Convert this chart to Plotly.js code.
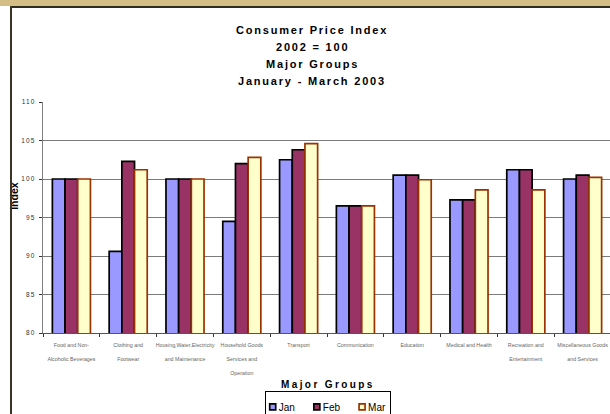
<!DOCTYPE html>
<html>
<head>
<meta charset="utf-8">
<script src="https://cdn.plot.ly/plotly-3.0.1.min.js"></script>
<style>
  html, body { margin: 0; padding: 0; background: #fff; overflow: hidden; }
  #wrap { position: relative; width: 610px; height: 414px; overflow: hidden; }
  #chart { position: absolute; left: 0; top: 0; }
  .band { position: absolute; left: 0; top: 0; width: 610px; height: 6px; background: #d4be85; }
  .topline { position: absolute; left: 10px; top: 6px; width: 600px; height: 2px; background: #2f2c22; }
  .leftline { position: absolute; left: 10px; top: 6px; width: 2px; height: 408px; background: #3a3426; }
  #chart .ytick text { letter-spacing: 1.2px; }
</style>
</head>
<body>
<div id="wrap">
  <div id="chart"></div>
  <div class="band"></div>
  <div class="topline"></div>
  <div class="leftline"></div>
</div>
<script>
const categories = [
  "Food and Non-<br> <br>Alcoholic Beverages",
  "Clothing and<br> <br>Footwear",
  "Housing,Water,Electricity<br> <br>and Maintenance",
  "Household Goods<br> <br>Services and<br> <br>Operation",
  "Transport",
  "Communication",
  "Education",
  "Medical and Health",
  "Recreation and<br> <br>Entertainment",
  "Miscellaneous Goods<br> <br>and Services"
];
const seriesNames = ["Jan", "Feb", "Mar"];
const jan = [100.0, 90.6, 100.0, 94.5, 102.5, 96.5, 100.5, 97.3, 101.2, 100.0];
const feb = [100.0, 102.3, 100.0, 102.0, 103.8, 96.5, 100.5, 97.3, 101.2, 100.5];
const mar = [100.0, 101.2, 100.0, 102.8, 104.6, 96.5, 99.9, 98.6, 98.6, 100.2];
const titleLines = ["Consumer Price Index", "2002 = 100", "Major Groups", "January - March 2003"];
const yTicks = [80, 85, 90, 95, 100, 105, 110];
const xTitle = "Major Groups";
const yTitle = "Index";

const fills = ["#9999ff", "#993366", "#ffffcc"];
const outlines = ["#000000", "#000000", "#993300"];
const values = [jan, feb, mar];

const traces = values.map((v, i) => ({
  type: "bar",
  name: seriesNames[i],
  x: categories,
  y: v,
  marker: { color: fills[i], line: { color: outlines[i], width: 1.7 } }
}));

const W = 620, H = 414;
const mL = 42.5, mR = 9, mT = 101.7, mB = 81.3;
const plotW = W - mL - mR, plotH = H - mT - mB;
const px = X => (X - mL) / plotW;
const py = Y => (H - mB - Y) / plotH;
const FONT = "Liberation Sans, Arial, sans-serif";
const spaced = (t, s) => "<b><span style='letter-spacing:" + s + "px'>" + t + "</span></b>";

const annotations = titleLines.map((t, i) => ({
  text: spaced(t, 1.8),
  xref: "paper", yref: "paper",
  x: px(312), y: py([30, 46.7, 63.3, 81][i]),
  xanchor: "center", yanchor: "middle",
  showarrow: false,
  font: { family: FONT, size: 11, color: "#000" }
}));
annotations.push({
  text: spaced(xTitle, 2.4),
  xref: "paper", yref: "paper",
  x: px(328), y: py(384),
  xanchor: "center", yanchor: "middle", showarrow: false,
  font: { family: FONT, size: 10, color: "#000" }
});
annotations.push({
  text: "<b>" + yTitle + "</b>",
  xref: "paper", yref: "paper",
  x: px(14), y: py(196),
  xanchor: "center", yanchor: "middle", textangle: -90, showarrow: false,
  font: { family: FONT, size: 10.5, color: "#000" }
});

const layout = {
  width: W, height: H,
  margin: { l: mL, r: mR, t: mT, b: mB, pad: 0, autoexpand: false },
  paper_bgcolor: "rgba(0,0,0,0)",
  plot_bgcolor: "#ffffff",
  barmode: "group",
  bargap: 0.33,
  bargroupgap: 0,
  font: { family: FONT, color: "#000" },
  showlegend: true,
  legend: {
    orientation: "h",
    x: px(327), xanchor: "center",
    y: py(391), yanchor: "top",
    bordercolor: "#000", borderwidth: 1,
    bgcolor: "#fff",
    font: { size: 10, color: "#000" },
    itemwidth: 30,
    traceorder: "normal"
  },
  xaxis: {
    type: "category",
    tickson: "boundaries",
    ticks: "outside", ticklen: 3, tickcolor: "#333", tickwidth: 1,
    showline: true, linecolor: "#555", linewidth: 1,
    showgrid: false,
    tickangle: 0,
    ticklabelstandoff: 7,
    tickfont: { size: 5.3, color: "#666" },
    automargin: false
  },
  yaxis: {
    range: [80, 110],
    tickvals: yTicks,
    ticktext: yTicks.map(String),
    ticks: "outside", ticklen: 3, tickcolor: "#333", tickwidth: 1,
    showline: true, linecolor: "#808080", linewidth: 1,
    showgrid: true, gridcolor: "#7a7a7a", gridwidth: 1,
    zeroline: false,
    ticklabelstandoff: 2,
    tickfont: { size: 6.5, color: "#333" },
    automargin: false
  },
  annotations: annotations
};

function tweakLegend(gd) {
  const leg = gd.querySelector("g.legend");
  if (!leg) return;
  const items = Array.from(leg.querySelectorAll("g.traces"));
  let x = 5, lastEnd = 0;
  items.forEach(tr => {
    const path = tr.querySelector(".legendpoints path");
    const txt = tr.querySelector("text.legendtext");
    if (!path || !txt) return;
    let n = path.parentNode;
    while (n && n !== tr) { n.removeAttribute("transform"); n = n.parentNode; }
    path.setAttribute("d", "M3,3H-3V-3H3Z");
    path.setAttribute("transform", "translate(" + (x + 3) + ",0)");
    txt.setAttribute("x", x + 9);
    txt.querySelectorAll("tspan").forEach(ts => { if (ts.hasAttribute("x")) ts.setAttribute("x", x + 9); });
    const tw = txt.getComputedTextLength();
    const m = /translate\(\s*([-\d.e]+)[ ,]+([-\d.e]+)\s*\)/.exec(tr.getAttribute("transform") || "");
    const ty = m ? parseFloat(m[2]) : 0;
    tr.setAttribute("transform", "translate(0," + ty + ")");
    lastEnd = x + 9 + tw;
    x = lastEnd + 19;
  });
  const total = lastEnd + 5;
  const bg = leg.querySelector("rect.bg");
  if (bg) bg.setAttribute("width", total);
  const m = /translate\(\s*([-\d.e]+)[ ,]+([-\d.e]+)\s*\)/.exec(leg.getAttribute("transform") || "");
  const ly = m ? parseFloat(m[2]) : 396;
  leg.setAttribute("transform", "translate(" + (327.5 - total / 2) + "," + ly + ")");
}

Plotly.newPlot("chart", traces, layout, { staticPlot: true, displayModeBar: false })
  .then(gd => { try { tweakLegend(gd); } catch (e) { console.error(e); } });
</script>
</body>
</html>
